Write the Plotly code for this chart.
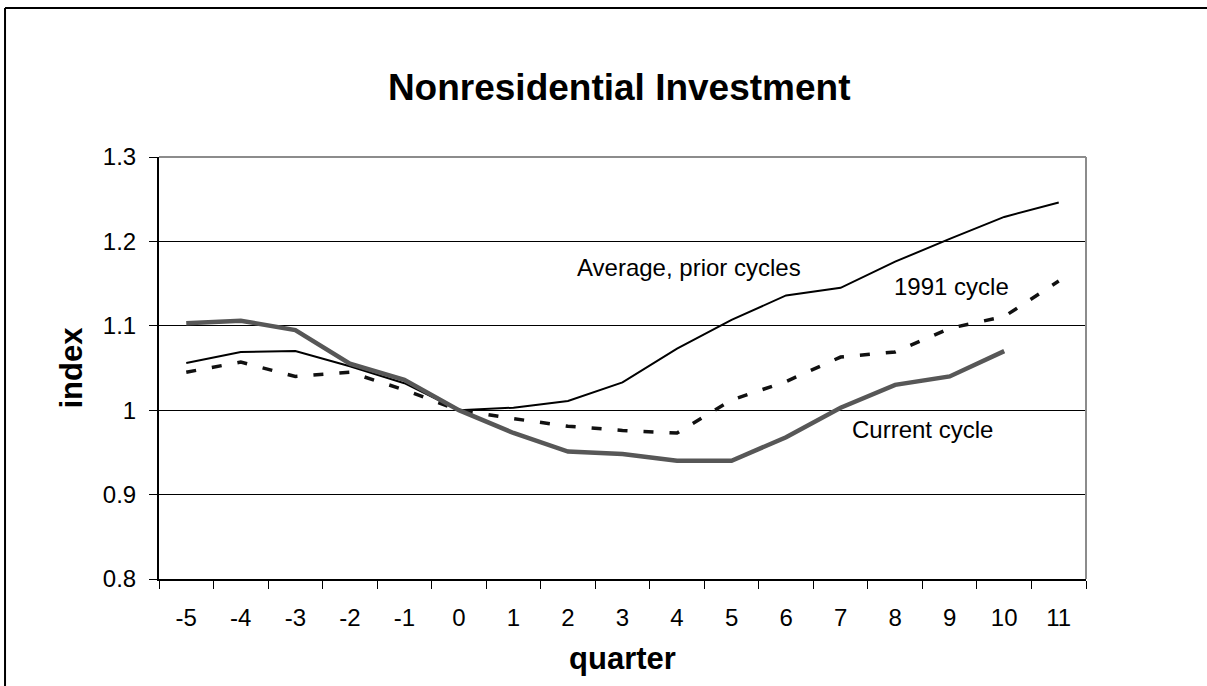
import plotly.graph_objects as go

quarters = ["-5", "-4", "-3", "-2", "-1", "0", "1", "2", "3", "4", "5", "6", "7", "8", "9", "10", "11"]
average_prior = [1.056, 1.069, 1.070, 1.052, 1.032, 1.000, 1.003, 1.011, 1.033, 1.073, 1.107, 1.136, 1.145, 1.176, 1.203, 1.229, 1.246]
cycle_1991 = [1.045, 1.057, 1.040, 1.045, 1.024, 1.000, 0.990, 0.981, 0.976, 0.973, 1.012, 1.034, 1.063, 1.069, 1.097, 1.111, 1.153]
current_quarters = quarters[:16]
current_cycle = [1.103, 1.106, 1.095, 1.055, 1.036, 1.000, 0.973, 0.951, 0.948, 0.940, 0.940, 0.968, 1.003, 1.030, 1.040, 1.070]

FONT = "Liberation Sans, Arial, sans-serif"

fig = go.Figure()
fig.add_trace(go.Scatter(x=quarters, y=average_prior, mode="lines",
                         line=dict(color="black", width=2), name="Average, prior cycles"))
fig.add_trace(go.Scatter(x=quarters, y=cycle_1991, mode="lines",
                         line=dict(color="#111111", width=3.5, dash="10px,16px"), name="1991 cycle"))
fig.add_trace(go.Scatter(x=current_quarters, y=current_cycle, mode="lines",
                         line=dict(color="#575757", width=4.5), name="Current cycle"))

fig.update_layout(
    width=1207, height=686, autosize=False,
    margin=dict(l=159, r=121, t=157, b=107),
    paper_bgcolor="white", plot_bgcolor="white",
    showlegend=False,
    font=dict(family=FONT, color="black"),
    title=dict(text="<b>Nonresidential Investment</b>", x=0.513, xanchor="center",
               y=0.873, yanchor="middle", font=dict(size=37, family=FONT, color="black")),
)

fig.update_xaxes(
    type="category", categoryorder="array", categoryarray=quarters,
    range=[-0.5, 16.5], tickson="boundaries", ticks="outside", ticklen=8,
    tickcolor="black", tickwidth=1, showline=True, linecolor="black", linewidth=2,
    showgrid=False, zeroline=False, tickfont=dict(size=24, family=FONT, color="black"),
    ticklabelstandoff=16,
    title=dict(text="<b>quarter</b>", font=dict(size=31, family=FONT, color="black"), standoff=18),
)
fig.update_yaxes(
    range=[0.8, 1.3], dtick=0.1, tick0=0.8, ticks="outside", ticklen=8,
    tickcolor="black", tickwidth=1, showline=True, linecolor="black", linewidth=2,
    showgrid=True, gridcolor="black", gridwidth=1, zeroline=False,
    tickfont=dict(size=24, family=FONT, color="black"), ticklabelstandoff=8,
    title=dict(text="<b>index</b>", font=dict(size=31, family=FONT, color="black"), standoff=11),
)

# gray top/right plot border
fig.add_shape(type="line", xref="paper", yref="paper", x0=0, x1=1, y0=1, y1=1,
              line=dict(color="#8c8c8c", width=2), layer="above")
fig.add_shape(type="line", xref="paper", yref="paper", x0=1, x1=1, y0=0, y1=1,
              line=dict(color="#8c8c8c", width=2), layer="above")
# outer chart frame (only top and left edges are inside the picture)
fig.add_shape(type="line", xref="paper", yref="paper", x0=-0.1661, x1=1.131, y0=1.353, y1=1.353,
              line=dict(color="black", width=2), layer="above")
fig.add_shape(type="line", xref="paper", yref="paper", x0=-0.1661, x1=-0.1661, y0=-0.3, y1=1.353,
              line=dict(color="black", width=2), layer="above")

ann_font = dict(size=24, family=FONT, color="black")
fig.add_annotation(x=7.12, y=1.1685, xref="x", yref="y", text="Average, prior cycles",
                   showarrow=False, xanchor="left", yanchor="middle", font=ann_font)
fig.add_annotation(x=12.95, y=1.146, xref="x", yref="y", text="1991 cycle",
                   showarrow=False, xanchor="left", yanchor="middle", font=ann_font)
fig.add_annotation(x=12.17, y=0.9777, xref="x", yref="y", text="Current cycle",
                   showarrow=False, xanchor="left", yanchor="middle", font=ann_font)

fig.write_html("out.html", config={"displayModeBar": False},
               post_script="document.body.style.margin='0';document.body.style.overflow='hidden';")
